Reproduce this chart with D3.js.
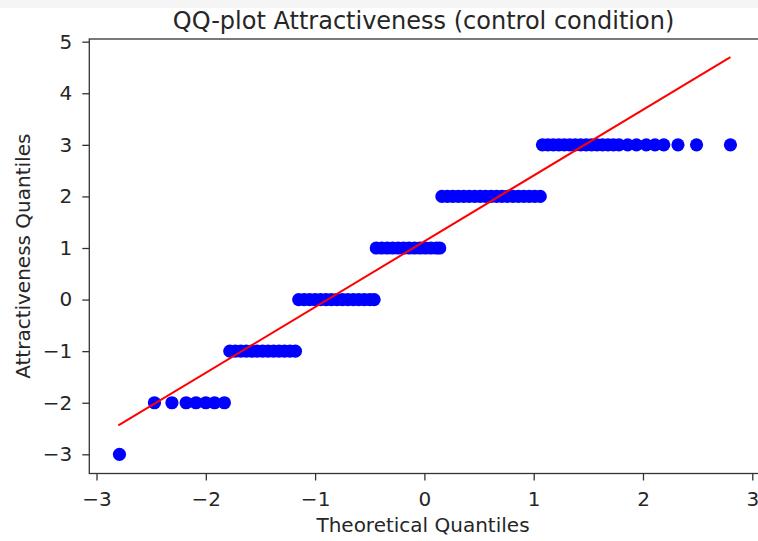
<!DOCTYPE html>
<html>
<head>
<meta charset="utf-8">
<title>QQ-plot Attractiveness (control condition)</title>
<script src="https://cdn.jsdelivr.net/npm/d3@7"></script>
<style>
  html, body { margin: 0; padding: 0; background: #fff; }
  #chart { width: 758px; height: 541px; overflow: hidden; }
  text { font-family: "DejaVu Sans", sans-serif; fill: #262626; }
</style>
</head>
<body>
<div id="chart"></div>
<script>
// Theoretical quantiles of the points, grouped by the sample value they sit on
const xAtMinus3 = [-2.79];
const xAtMinus2 = [-2.47, -2.31, -2.18, -2.09, -2.0, -1.92, -1.83];
const xAtMinus1 = [-1.78, -1.73, -1.68, -1.63, -1.58, -1.53, -1.48, -1.43, -1.38, -1.33, -1.28, -1.23, -1.18];
const xAt0 = [-1.15, -1.1, -1.05, -1.0, -0.95, -0.9, -0.85, -0.8, -0.75, -0.7, -0.65, -0.6, -0.55, -0.5, -0.46];
const xAt1 = [-0.44, -0.39, -0.34, -0.29, -0.24, -0.19, -0.14, -0.09, -0.04, 0.01, 0.06, 0.11, 0.14];
const xAt2 = [0.16, 0.21, 0.26, 0.31, 0.36, 0.41, 0.46, 0.51, 0.56, 0.61, 0.66, 0.71, 0.76, 0.81, 0.86, 0.91, 0.96, 1.01, 1.06];
const xAt3 = [1.08, 1.13, 1.18, 1.23, 1.28, 1.33, 1.38, 1.43, 1.48, 1.53, 1.58, 1.63, 1.68, 1.73, 1.78, 1.86, 1.94, 2.03, 2.11, 2.19, 2.32, 2.49, 2.8];

const sampleLevels = [-3, -2, -1, 0, 1, 2, 3];
const levelX = [xAtMinus3, xAtMinus2, xAtMinus1, xAt0, xAt1, xAt2, xAt3];

// Fitted reference line (end points)
const fitX = [-2.8, 2.8];
const fitY = [-2.44, 4.7];

const xTicks = [-3, -2, -1, 0, 1, 2, 3];
const yTicks = [-3, -2, -1, 0, 1, 2, 3, 4, 5];

const points = [];
sampleLevels.forEach((lvl, i) => {
  levelX[i].forEach((x) => points.push({ x: x, y: lvl }));
});

const width = 758;
const height = 541;
const plotLeft = 89.3, plotRight = 759.5, plotTop = 39, plotBottom = 473.5;

const svg = d3
  .select("#chart")
  .append("svg")
  .attr("width", width)
  .attr("height", height);

// light strip at the very top of the crop
svg.append("rect")
  .attr("x", 0)
  .attr("y", 0)
  .attr("width", width)
  .attr("height", 8)
  .attr("fill", "#f5f5f5");

// Scales
const x = d3.scaleLinear().domain([-3.066, 3.066]).range([plotLeft, plotRight]);
const y = d3.scaleLinear().domain([-3.372, 5.052]).range([plotBottom, plotTop]);

const minusFormat = (d) => String(d).replace("-", "\u2212");

// Axes
const xAxis = svg
  .append("g")
  .attr("transform", `translate(0,${plotBottom})`)
  .call(d3.axisBottom(x).tickValues(xTicks).tickSize(7).tickPadding(11).tickFormat(minusFormat));

const yAxis = svg
  .append("g")
  .attr("transform", `translate(${plotLeft},0)`)
  .call(d3.axisLeft(y).tickValues(yTicks).tickSize(7).tickPadding(10).tickFormat(minusFormat));

[xAxis, yAxis].forEach((g) => {
  g.select(".domain").remove();
  g.selectAll(".tick line").attr("stroke", "#333").attr("stroke-width", 1.3);
  g.selectAll(".tick text")
    .attr("font-size", "20px")
    .attr("font-family", "DejaVu Sans, sans-serif")
    .attr("fill", "#262626");
});

// Frame (spines)
svg.append("rect")
  .attr("x", plotLeft)
  .attr("y", plotTop)
  .attr("width", plotRight - plotLeft)
  .attr("height", plotBottom - plotTop)
  .attr("fill", "none")
  .attr("stroke", "#333")
  .attr("stroke-width", 1.3);

// Points
svg
  .append("g")
  .selectAll("circle")
  .data(points)
  .enter()
  .append("circle")
  .attr("cx", (d) => x(d.x))
  .attr("cy", (d) => y(d.y))
  .attr("r", 6.6)
  .attr("fill", "#0000ff");

// Fit line
svg.append("line")
  .attr("x1", x(fitX[0]))
  .attr("y1", y(fitY[0]))
  .attr("x2", x(fitX[1]))
  .attr("y2", y(fitY[1]))
  .attr("stroke", "#ff0000")
  .attr("stroke-width", 2);

// Title and labels
svg.append("text")
  .attr("x", 423.5)
  .attr("y", 28.5)
  .attr("text-anchor", "middle")
  .attr("font-size", "24px")
  .text("QQ-plot Attractiveness (control condition)");

svg.append("text")
  .attr("x", 423)
  .attr("y", 532)
  .attr("text-anchor", "middle")
  .attr("font-size", "20px")
  .text("Theoretical Quantiles");

svg.append("text")
  .attr("transform", `translate(30,${(plotTop + plotBottom) / 2}) rotate(-90)`)
  .attr("text-anchor", "middle")
  .attr("font-size", "20px")
  .text("Attractiveness Quantiles");
</script>
</body>
</html>
